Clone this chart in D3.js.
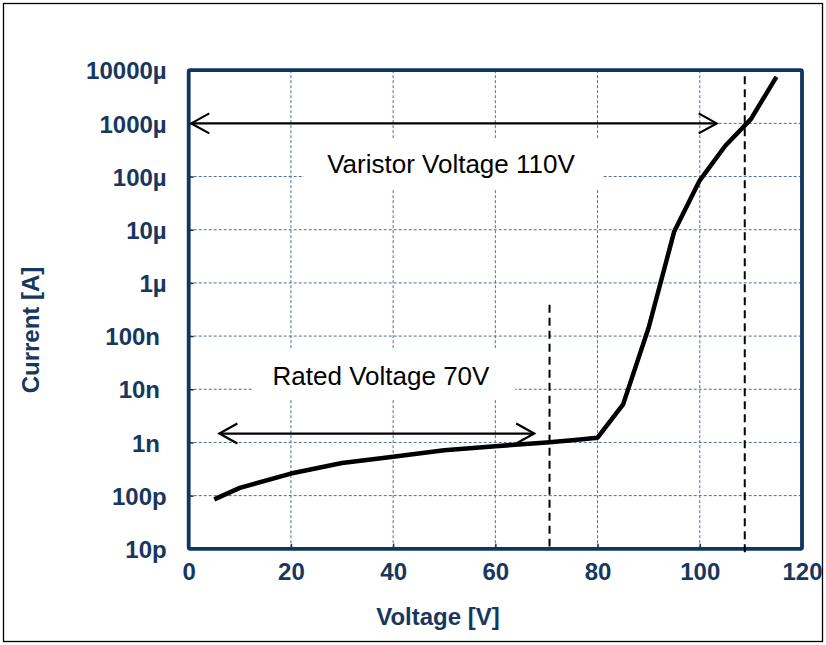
<!DOCTYPE html>
<html>
<head>
<meta charset="utf-8">
<script src="https://cdn.jsdelivr.net/npm/d3@7/dist/d3.min.js"></script>
<style>
  html, body { margin: 0; padding: 0; background: #fff; }
  svg { display: block; }
  text { font-family: "Liberation Sans", Arial, sans-serif; }
</style>
</head>
<body>
<div id="chart"></div>
<script>
// ---- data ----
const voltage = [5, 10, 20, 30, 40, 50, 60, 70, 75, 80, 85, 90, 95, 100, 105, 110, 115];
const current = [8.5e-11, 1.4e-10, 2.6e-10, 4.1e-10, 5.4e-10, 7.1e-10, 8.5e-10, 1.0e-9, 1.1e-9, 1.23e-9,
                 5.2e-9, 1.45e-7, 9.3e-6, 8.5e-5, 3.8e-4, 1.2e-3, 7.5e-3];
const xTicks = [0, 20, 40, 60, 80, 100, 120];
const yTicks = [1e-11, 1e-10, 1e-9, 1e-8, 1e-7, 1e-6, 1e-5, 1e-4, 1e-3, 1e-2];
const yTickLabels = ["10p", "100p", "1n ", "10n ", "100n ", "1µ", "10µ", "100µ", "1000µ", "10000µ"];
// marker lines (voltage, top current, bottom current)
const markerV = [70.6, 108.8];
const markerTop = [3.9e-7, 7.7e-3];
const markerBottom = [1.1e-11, 7.9e-12];
// double arrows (y current, from V, to V)
const arrowY = [1e-3, 1.47e-9];
const arrowFrom = [0.5, 6];
const arrowTo = [103.3, 67.6];
const annotations = ["Varistor Voltage 110V", "Rated Voltage 70V"];

// ---- layout ----
const W = 826, H = 645;
const pL = 188.7, pR = 802, pT = 70.2, pB = 548.8;
const navy = "#17375e";

const svg = d3.select("#chart").append("svg").attr("width", W).attr("height", H);

// outer border
svg.append("rect").attr("x", 3.5).attr("y", 3.5).attr("width", 819).attr("height", 638)
  .attr("fill", "none").attr("stroke", "#000").attr("stroke-width", 1.3);

const x = d3.scaleLinear().domain([0, 120]).range([pL, pR]);
const y = d3.scaleLog().domain([1e-11, 1e-2]).range([pB, pT]);

// grid
const grid = svg.append("g");
grid.selectAll("line.v").data(xTicks.slice(1, -1)).join("line").attr("class", "v")
  .attr("x1", d => x(d)).attr("x2", d => x(d)).attr("y1", pT).attr("y2", pB)
  .attr("stroke", "#4f6e96").attr("stroke-width", 1).attr("stroke-dasharray", "3,2");
grid.selectAll("line.h").data(yTicks.slice(1, -1)).join("line").attr("class", "h")
  .attr("x1", pL).attr("x2", pR).attr("y1", d => y(d)).attr("y2", d => y(d))
  .attr("stroke", "#4f6e96").attr("stroke-width", 1).attr("stroke-dasharray", "3,2");

// white label boxes (cover grid)
const boxes = [
  {x0: 304, x1: 603, y0: 138, y1: 190, tx: 451, ty: 172.5},
  {x0: 252, x1: 515, y0: 348, y1: 400, tx: 381, ty: 384.5}
];
svg.selectAll("rect.box").data(boxes).join("rect").attr("class", "box")
  .attr("x", d => d.x0).attr("y", d => d.y0)
  .attr("width", d => d.x1 - d.x0).attr("height", d => d.y1 - d.y0)
  .attr("fill", "#fff");
svg.selectAll("text.ann").data(boxes).join("text").attr("class", "ann")
  .attr("x", d => d.tx).attr("y", d => d.ty)
  .attr("text-anchor", "middle").attr("font-size", 26).attr("fill", "#000")
  .text((d, i) => annotations[i]);

// axes (ticks inward, labels)
const xAxis = d3.axisBottom(x).tickValues(xTicks).tickSize(-5).tickPadding(14).tickFormat(d3.format("d"));
const gx = svg.append("g").attr("transform", `translate(0,${pB})`).call(xAxis);
gx.select(".domain").remove();
gx.selectAll(".tick line").attr("stroke", navy).attr("stroke-width", 1.5);
gx.selectAll(".tick text").attr("font-size", 24).attr("font-weight", "bold").attr("fill", navy)
  .attr("font-family", "Liberation Sans, Arial, sans-serif").attr("dy", "0.71em");

const yAxis = d3.axisLeft(y).tickValues(yTicks).tickSize(-5).tickPadding(22)
  .tickFormat((d, i) => yTickLabels[i]);
const gy = svg.append("g").attr("transform", `translate(${pL},0)`).call(yAxis);
gy.select(".domain").remove();
gy.selectAll(".tick line").attr("stroke", navy).attr("stroke-width", 1.5);
gy.selectAll(".tick text").attr("font-size", 24).attr("font-weight", "bold").attr("fill", navy)
  .attr("font-family", "Liberation Sans, Arial, sans-serif").style("white-space", "pre").attr("dy", "0.36em");

// frame
svg.append("rect").attr("x", pL).attr("y", pT).attr("width", pR - pL).attr("height", pB - pT)
  .attr("fill", "none").attr("stroke", "#0f3662").attr("stroke-width", 3.8).attr("rx", 1.5);

// marker dashed lines
svg.selectAll("line.marker").data(markerV).join("line").attr("class", "marker")
  .attr("x1", d => x(d)).attr("x2", d => x(d))
  .attr("y1", (d, i) => y(markerTop[i])).attr("y2", (d, i) => y(markerBottom[i]))
  .attr("stroke", "#000").attr("stroke-width", 2).attr("stroke-dasharray", "8,5");

// double-headed arrows
const ag = svg.append("g").attr("fill", "none").attr("stroke", "#000").attr("stroke-width", 2.2);
arrowY.forEach((yy, i) => {
  const yp = y(yy), xa = x(arrowFrom[i]), xb = x(arrowTo[i]);
  ag.append("line").attr("x1", xa).attr("x2", xb).attr("y1", yp).attr("y2", yp);
  ag.append("path").attr("d", `M${xa + 18},${yp - 10}L${xa},${yp}L${xa + 18},${yp + 10}`);
  ag.append("path").attr("d", `M${xb - 18},${yp - 10}L${xb},${yp}L${xb - 18},${yp + 10}`);
});

// V-I curve
const line = d3.line().x(d => x(d[0])).y(d => y(d[1])).curve(d3.curveLinear);
svg.append("path").datum(voltage.map((v, i) => [v, current[i]]))
  .attr("d", line).attr("fill", "none").attr("stroke", "#000").attr("stroke-width", 4.5)
  .attr("stroke-linejoin", "round").attr("stroke-linecap", "butt");

// axis titles
svg.append("text").attr("x", 438).attr("y", 625).attr("text-anchor", "middle")
  .attr("font-size", 24).attr("font-weight", "bold").attr("fill", navy).text("Voltage [V]");
svg.append("text").attr("transform", "translate(39,330) rotate(-90)").attr("text-anchor", "middle")
  .attr("font-size", 24).attr("font-weight", "bold").attr("fill", navy).text("Current [A]");
</script>
</body>
</html>
